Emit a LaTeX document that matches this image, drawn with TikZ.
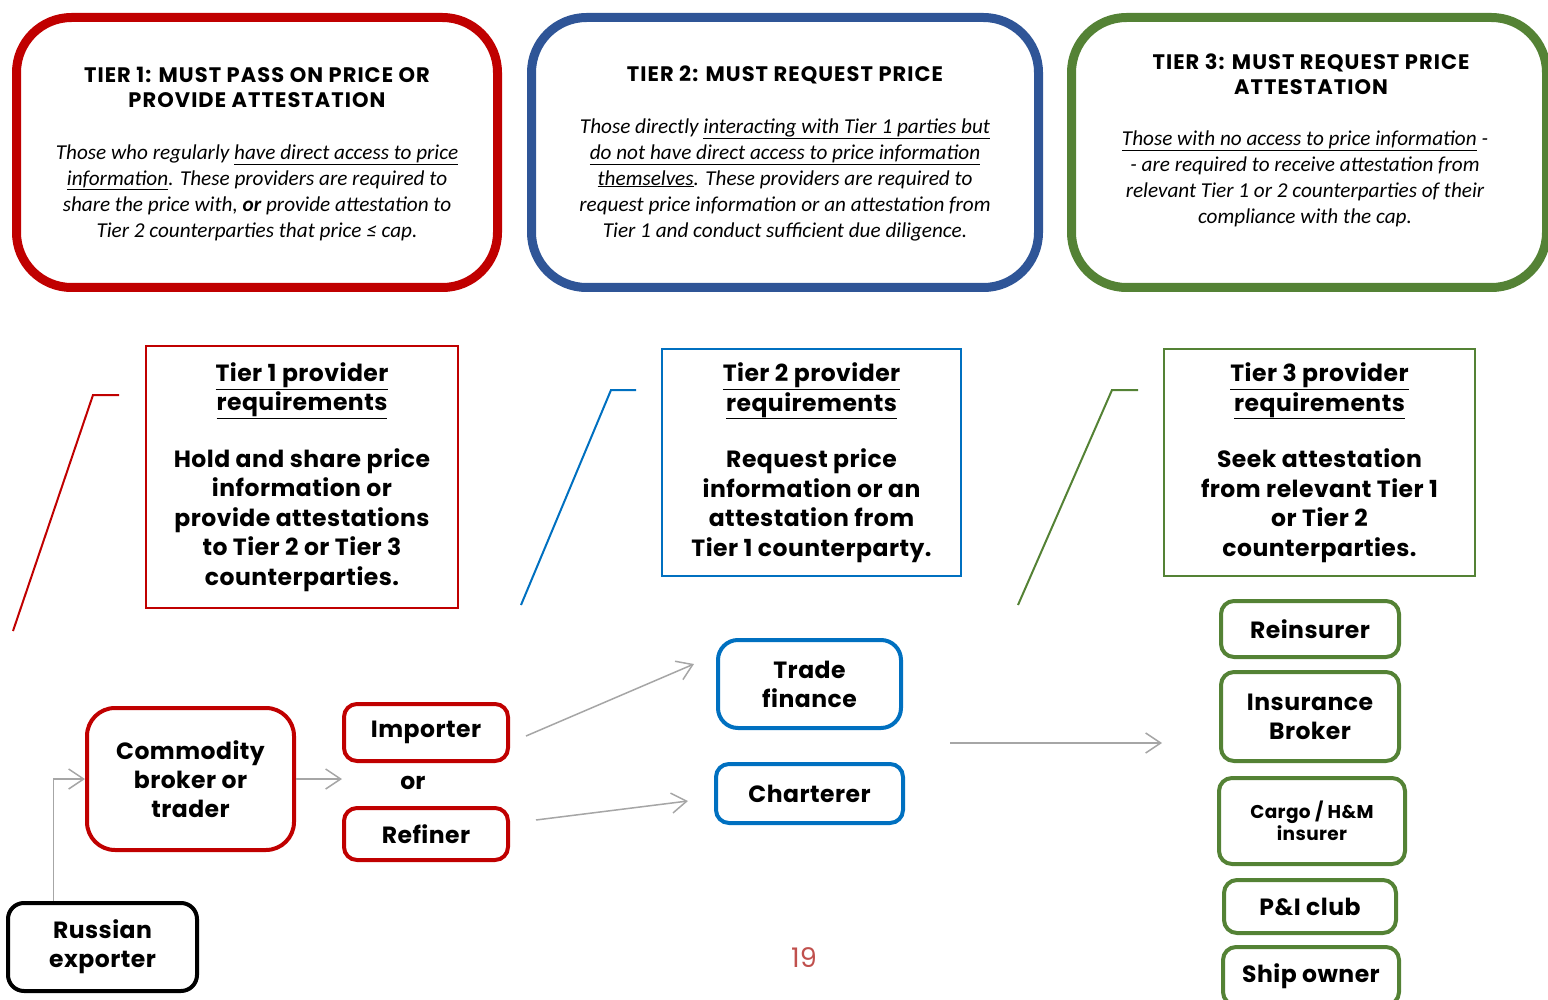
\documentclass[tikz,border=0pt]{standalone}
\usepackage{fontspec}
\setmainfont{Carlito}
\newfontfamily\pop{Poppins}
\usetikzlibrary{arrows.meta}
\definecolor{tred}{HTML}{C00000}
\definecolor{tblue}{HTML}{2F5597}
\definecolor{lblue}{HTML}{0070C0}
\definecolor{tgreen}{HTML}{548235}
\definecolor{flowgrey}{HTML}{A6A6A6}
\definecolor{pagered}{HTML}{C0504D}

\begin{document}
\begin{tikzpicture}[x=1pt,y=-1pt]
        \tikzset{tierbox/.style={draw,line width=9pt,rounded corners=55pt},
            tiertitle/.style={align=center,font=\pop\bfseries\fontsize{21}{25.5}\selectfont\addfontfeature{LetterSpace=5}},
            tierbody/.style={align=center,font=\itshape\fontsize{21.2}{26}\selectfont},
            reqbox/.style={draw,line width=2pt,align=center,inner sep=0pt,
                font=\pop\bfseries\fontsize{23.5}{29.5}\selectfont\addfontfeature{LetterSpace=2}},
            actor/.style={draw,line width=4pt,rounded corners=13pt,align=center,inner sep=0pt,
                font=\pop\bfseries\fontsize{23.5}{29}\selectfont\addfontfeature{LetterSpace=2}},
            flow/.style={draw=flowgrey,line width=1.5pt,-{Straight Barb[length=15pt,width=20pt]}}}
        \useasboundingbox (0,0) rectangle (1548,1000);
        \node[tierbox,draw=tred,minimum width=481pt,minimum height=270pt] (tier1) at (257,152.5) {};
        \node[tierbox,draw=tblue,minimum width=507pt,minimum height=270pt] (tier2) at (785,152.5) {};
        \node[tierbox,draw=tgreen,minimum width=475pt,minimum height=270pt] (tier3) at (1309,152.5) {};
        \node[tiertitle] (t1title) at (257,87.5) {TIER 1: MUST PASS ON PRICE OR\\PROVIDE ATTESTATION};
        \node[tierbody] (t1body) at (257,192.5) {Those who regularly \underline{have direct access to price}\\
            \underline{information}. These providers are required to\\
            share the price with, \textbf{or} provide attestation to\\
            Tier 2 counterparties that price ≤ cap.};
        \node[tiertitle] (t2title) at (785,75) {TIER 2: MUST REQUEST PRICE};
        \node[tierbody] (t2body) at (785,179.5) {Those directly \underline{interacting with Tier 1 parties but}\\
            \underline{do not have direct access to price information}\\
            \underline{themselves}. These providers are required to\\
            request price information or an attestation from\\
            Tier 1 and conduct sufficient due diligence.};
        \node[tiertitle] (t3title) at (1311,74) {TIER 3: MUST REQUEST PRICE\\ATTESTATION};
        \node[tierbody] (t3body) at (1305,179) {\underline{Those with no access to price information} -\\
            - are required to receive attestation from\\
            relevant Tier 1 or 2 counterparties of their\\
            compliance with the cap.};
        \node[reqbox,draw=tred,minimum width=312pt,minimum height=262pt] (req1) at (302,477)
            {\underline{Tier 1 provider}\\\underline{requirements}\\[27pt]Hold and share price\\information or\\
            provide attestations\\to Tier 2 or Tier 3\\counterparties.};
        \node[reqbox,draw=lblue,minimum width=299pt,minimum height=227pt] (req2) at (811.5,462.5)
            {\underline{Tier 2 provider}\\\underline{requirements}\\[27pt]Request price\\information or an\\
            attestation from\\Tier 1 counterparty.};
        \node[reqbox,draw=tgreen,minimum width=311pt,minimum height=227pt] (req3) at (1319.5,462.5)
            {\underline{Tier 3 provider}\\\underline{requirements}\\[27pt]Seek attestation\\from relevant Tier 1\\
            or Tier 2\\counterparties.};
        \draw[tred,line width=2pt] (13,631) -- (93,395) -- (119,395);
        \draw[lblue,line width=2pt] (521,605) -- (611,390) -- (636,390);
        \draw[tgreen,line width=2pt] (1018,605) -- (1112,390) -- (1138,390);
        \node[actor,draw=tred,rounded corners=28pt,minimum width=207pt,minimum height=142pt] (broker) at (190.5,779)
            {Commodity\\broker or\\trader};
        \node[actor,draw=tred,minimum width=164pt,minimum height=57pt] (importer) at (426,732.5) {Importer};
        \node[font=\pop\bfseries\fontsize{23.5}{29}\selectfont] (ortext) at (413,783) {or};
        \node[actor,draw=tred,minimum width=164pt,minimum height=52pt] (refiner) at (426,834) {Refiner};
        \node[actor,draw=black,rounded corners=16pt,minimum width=189pt,minimum height=88pt] (russian) at (102.5,947)
            {Russian\\exporter};
        \node[actor,draw=lblue,rounded corners=20pt,minimum width=183pt,minimum height=88pt] (tradefin) at (809.5,684)
            {Trade\\finance};
        \node[actor,draw=lblue,minimum width=187pt,minimum height=59pt] (charterer) at (809.5,793.5) {Charterer};
        \node[actor,draw=tgreen,minimum width=178pt,minimum height=56pt] (reinsurer) at (1310,629) {Reinsurer};
        \node[actor,draw=tgreen,minimum width=178pt,minimum height=89pt] (insbroker) at (1310,716.5) {Insurance\\Broker};
        \node[actor,draw=tgreen,minimum width=186pt,minimum height=86pt,
            font=\pop\bfseries\fontsize{18.5}{22}\selectfont\addfontfeature{LetterSpace=2}]
            (cargo) at (1312,821) {Cargo / H\&M\\insurer};
        \node[actor,draw=tgreen,minimum width=172pt,minimum height=53pt] (pandi) at (1310,906.5) {P\&I club};
        \node[actor,draw=tgreen,minimum width=176pt,minimum height=58pt] (shipowner) at (1311,976) {Ship owner};
        \coordinate (t2out) at (950,743);
        \coordinate (t3in) at (1162,743);
        \draw[flow] ([xshift=-49pt]russian.north) |- (broker.west);
        \draw[flow] (broker.east) -- (broker.east -| importer.west);
        \draw[flow] ([xshift=16pt,yshift=-3.5pt]importer.east) -- ([xshift=-22pt,yshift=20pt]tradefin.west);
        \draw[flow] ([xshift=26pt,yshift=14pt]refiner.east) -- ([xshift=-26pt,yshift=-7.5pt]charterer.west);
        \draw[flow] (t2out) -- (t3in);
        \node[text=pagered,font=\pop\fontsize{27}{30}\selectfont] (pagenum) at (804,958) {19};
    \end{tikzpicture}
\end{document}
